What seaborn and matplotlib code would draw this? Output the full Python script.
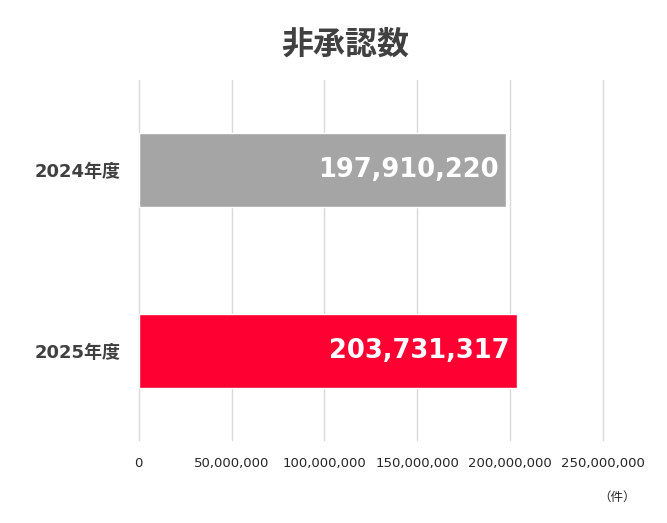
import matplotlib
matplotlib.use("Agg")
from matplotlib import pyplot as plt
from matplotlib.ticker import FuncFormatter
import seaborn as sns
import pandas as pd

sns.set_style("white")
plt.rcParams['font.family'] = ['Noto Sans CJK JP', 'DejaVu Sans']
num_font = ['DejaVu Sans', 'Noto Sans CJK JP']

categories = ["2024年度", "2025年度"]
values = [197910220, 203731317]
colors = ["#a5a5a5", "#ff0033"]
ticks = [0, 50000000, 100000000, 150000000, 200000000, 250000000]

df = pd.DataFrame({"year": categories, "count": values})

fig = plt.figure(figsize=(6.67, 5.23), dpi=100)
ax = fig.add_axes([0.208, 0.159, 0.696, 0.688])
sns.barplot(data=df, x="count", y="year", hue="year", palette=colors,
            orient="h", width=0.41, legend=False, ax=ax, saturation=1)

ax.set_xlim(0, 250000000)
ax.set_ylim(1.49, -0.5)
ax.set_xticks(ticks)
ax.xaxis.set_major_formatter(FuncFormatter(lambda v, p: "{:,}".format(int(v))))
ax.grid(axis="x", color="#d9d9d9", linewidth=1)
ax.set_axisbelow(True)
for gl in ax.get_xgridlines():
    gl.set_clip_on(False)
for s in ax.spines.values():
    s.set_visible(False)
ax.tick_params(axis="x", length=0, colors="#262626", pad=12)
ax.tick_params(axis="y", length=0, pad=13)
for lab in ax.get_xticklabels():
    lab.set_family(num_font)
    lab.set_fontsize(9.5)
for lab in ax.get_yticklabels():
    lab.set_family(num_font)
    lab.set_fontsize(13)
    lab.set_fontweight("bold")
    lab.set_color("#404040")
ax.set_xlabel("")
ax.set_ylabel("")

for i, v in enumerate(values):
    ax.text(v - 4000000, i, "{:,}".format(v), ha="right", va="center",
            color="white", fontsize=18.5, fontweight="bold", family=num_font)

fig.text(0.517, 0.915, "非承認数", ha="center", va="center",
         fontsize=23, fontweight="bold", color="#404040")
fig.text(0.925, 0.05, "（件）", ha="center", va="center", fontsize=9, color="#262626")

fig.savefig("out.png", dpi=100)
